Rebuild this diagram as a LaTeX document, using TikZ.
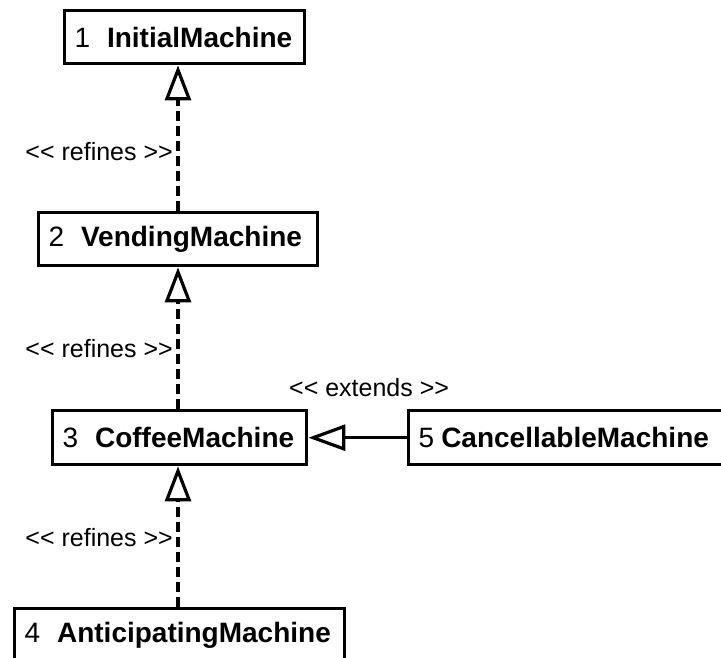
\documentclass[tikz,border=0pt]{standalone}
\usepackage{fontspec}
\setmainfont{Liberation Sans}
\usetikzlibrary{arrows.meta}
\newcommand{\umlopen}{<\kern0pt<}
\newcommand{\umlclose}{>\kern0pt>}
\begin{document}
\begin{tikzpicture}[x=1pt,y=-1pt,
  umlbox/.style={draw, line width=3.4pt, anchor=north west, align=left,
    inner xsep=10pt, inner ysep=0pt, minimum height=53pt,
    font=\fontsize{28}{28}\selectfont},
  refine/.style={line width=3.4pt, dash pattern=on 10pt off 5pt,
    -{Triangle[open,length=35pt,width=26pt,line width=3.2pt]}},
  extend/.style={line width=3.4pt,
    -{Triangle[open,length=37pt,width=26pt,line width=3.2pt]}},
  lbl/.style={font=\fontsize{25}{25}\selectfont, inner sep=0pt}]
\useasboundingbox (0,0) rectangle (721,658);
\node[umlbox, text width=220pt] (b1) at (63,9) {1\hspace{0.6em}\textbf{InitialMachine}};
\node[umlbox, text width=259pt] (b2) at (37,211) {2\hspace{0.6em}\textbf{VendingMachine}};
\node[umlbox, text width=234pt, minimum height=54pt] (b3) at (51,409) {3\hspace{0.6em}\textbf{CoffeeMachine}};
\node[umlbox, text width=303pt, minimum height=54pt] (b5) at (407,409) {5\hspace{0.25em}\textbf{CancellableMachine}};
\node[umlbox, text width=310pt, minimum height=54pt] (b4) at (13,607) {4\hspace{0.6em}\textbf{AnticipatingMachine}};
\coordinate (ax) at (178,0);
\draw[refine] (b2.north -| ax) -- (b1.south -| ax);
\draw[refine] (b3.north -| ax) -- (b2.south -| ax);
\draw[refine] (b4.north -| ax) -- (b3.south -| ax);
\draw[extend] (b5.west) -- (b3.east);
\node[lbl, anchor=east] (r1) at (173,152) {\umlopen{} refines \umlclose};
\node[lbl, anchor=east] (r2) at (173,349) {\umlopen{} refines \umlclose};
\node[lbl, anchor=east] (r3) at (173,538) {\umlopen{} refines \umlclose};
\node[lbl, anchor=west] (e1) at (289,388) {\umlopen{} extends \umlclose};
\end{tikzpicture}
\end{document}
